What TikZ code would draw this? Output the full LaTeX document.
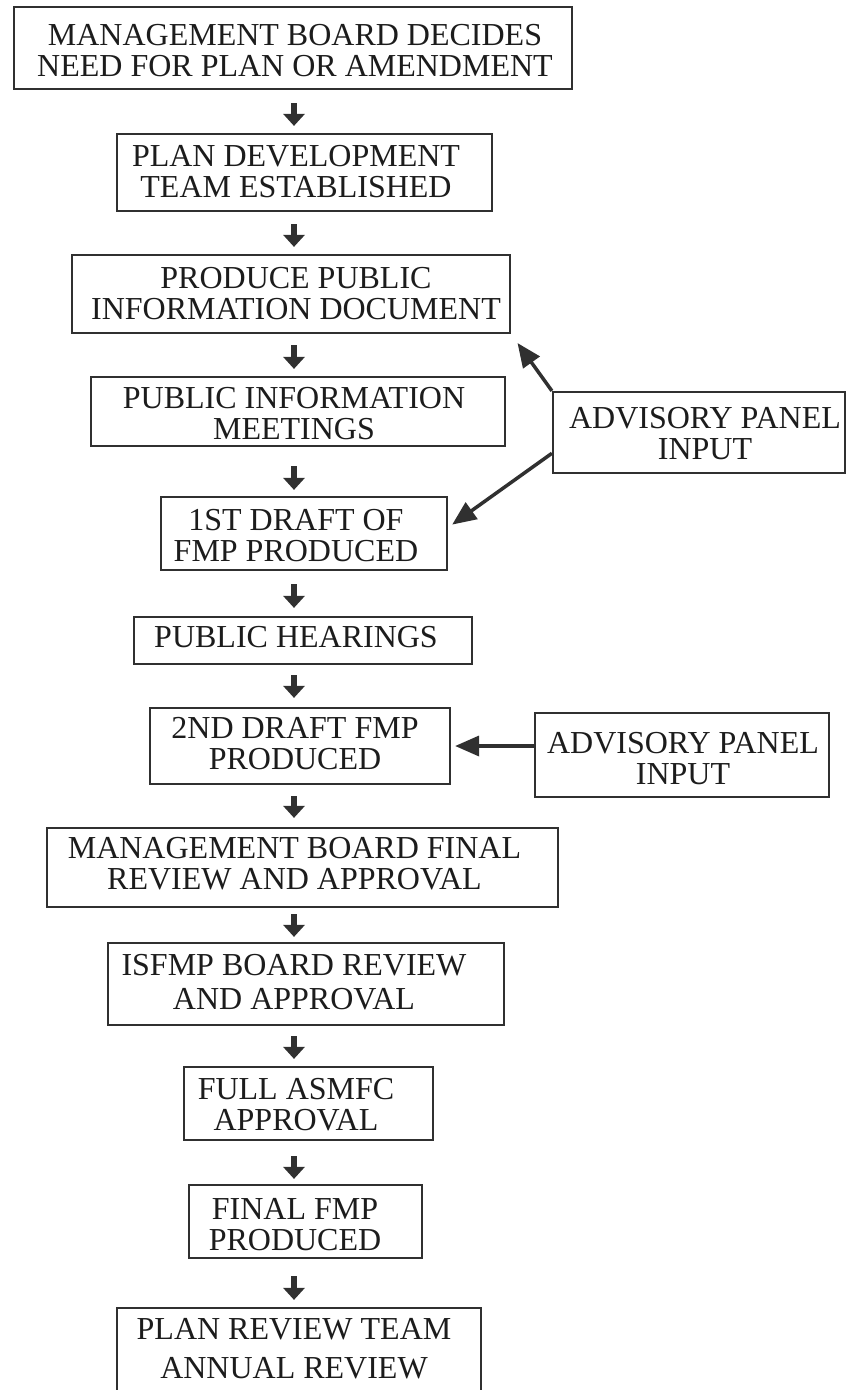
\documentclass[tikz,border=0pt]{standalone}
\usepackage{fontspec}
\setmainfont{Liberation Serif}
\usetikzlibrary{arrows.meta,calc}
\definecolor{ink}{HTML}{303030}
\definecolor{txt}{HTML}{1C1C1C}
\tikzset{
  stepbox/.style={draw=ink, line width=2.2pt, inner sep=0pt},
  steptext/.style={align=center, inner sep=0pt, text=txt,
                   font=\fontsize{32}{31}\selectfont},
  flowarrow/.style={draw=ink, line width=5.5pt,
                    -{Triangle[width=21pt,length=12pt]}},
  sidearrow/.style={draw=ink, line width=3.5pt,
                    -{Triangle[width=20pt,length=24pt]}},
}
\begin{document}
\begin{tikzpicture}[x=1pt, y=-1pt]
\useasboundingbox (0,0) rectangle (848,1390);
\clip (0,0) rectangle (848,1390);
\fill[white] (0,0) rectangle (848,1390);

% column of the main flow arrows
\coordinate (col) at (294,0);

% main sequence of steps (frames)
\node[stepbox, minimum width=558pt, minimum height=82pt] (b1)  at (293,48)     {};
\node[stepbox, minimum width=375pt, minimum height=77pt] (b2)  at (304.5,172.5) {};
\node[stepbox, minimum width=438pt, minimum height=78pt] (b3)  at (291,294)    {};
\node[stepbox, minimum width=414pt, minimum height=69pt] (b4)  at (298,411.5)  {};
\node[stepbox, minimum width=286pt, minimum height=73pt] (b5)  at (304,533.5)  {};
\node[stepbox, minimum width=338pt, minimum height=47pt] (b6)  at (303,640.5)  {};
\node[stepbox, minimum width=300pt, minimum height=76pt] (b7)  at (300,746)    {};
\node[stepbox, minimum width=511pt, minimum height=79pt] (b8)  at (302.5,867.5) {};
\node[stepbox, minimum width=396pt, minimum height=82pt] (b9)  at (306,984)    {};
\node[stepbox, minimum width=249pt, minimum height=73pt] (b10) at (308.5,1103.5) {};
\node[stepbox, minimum width=233pt, minimum height=73pt] (b11) at (305.5,1221.5) {};
\node[stepbox, minimum width=364pt, minimum height=92pt] (b12) at (299,1354)   {};

% advisory panel frames
\node[stepbox, minimum width=292pt, minimum height=81pt] (a1) at (699,432.5) {};
\node[stepbox, minimum width=294pt, minimum height=84pt] (a2) at (682,755)   {};

% step labels
\node[steptext] (t1)  at (295,51)    {MANAGEMENT BOARD DECIDES\\NEED FOR PLAN OR AMENDMENT};
\node[steptext] (t2)  at (296,171.5) {PLAN DEVELOPMENT\\TEAM ESTABLISHED};
\node[steptext] (t3)  at (296,293.5) {PRODUCE PUBLIC\\INFORMATION DOCUMENT};
\node[steptext] (t4)  at (294,413.5) {PUBLIC INFORMATION\\MEETINGS};
\node[steptext] (t5)  at (296,536)   {1ST DRAFT OF\\FMP PRODUCED};
\node[steptext] (t6)  at (296,637.5) {PUBLIC HEARINGS};
\node[steptext] (t7)  at (295,744)   {2ND DRAFT FMP\\PRODUCED};
\node[steptext] (t8)  at (294.5,864) {MANAGEMENT BOARD FINAL\\REVIEW AND APPROVAL};
\node[steptext] (t9)  at (294,982.5) {ISFMP BOARD REVIEW\\[3pt]AND APPROVAL};
\node[steptext] (t10) at (296,1104.5) {FULL ASMFC\\APPROVAL};
\node[steptext] (t11) at (295,1225)  {FINAL FMP\\PRODUCED};
\node[steptext] (t12) at (294,1349)  {PLAN REVIEW TEAM\\[8pt]ANNUAL REVIEW};
\node[steptext] (ta1) at (705,434)   {ADVISORY PANEL\\INPUT};
\node[steptext] (ta2) at (683,758.5) {ADVISORY PANEL\\INPUT};

% downward flow between consecutive steps
\draw[flowarrow, shorten <=13pt, shorten >=7pt] (b1.south -| col)  -- (b2.north -| col);
\draw[flowarrow, shorten <=12pt, shorten >=7pt] (b2.south -| col)  -- (b3.north -| col);
\draw[flowarrow, shorten <=11pt, shorten >=7pt] (b3.south -| col)  -- (b4.north -| col);
\draw[flowarrow, shorten <=19pt, shorten >=6pt] (b4.south -| col)  -- (b5.north -| col);
\draw[flowarrow, shorten <=13pt, shorten >=8pt] (b5.south -| col)  -- (b6.north -| col);
\draw[flowarrow, shorten <=10pt, shorten >=9pt] (b6.south -| col)  -- (b7.north -| col);
\draw[flowarrow, shorten <=11pt, shorten >=9pt] (b7.south -| col)  -- (b8.north -| col);
\draw[flowarrow, shorten <=6pt,  shorten >=5pt] (b8.south -| col)  -- (b9.north -| col);
\draw[flowarrow, shorten <=10pt, shorten >=7pt] (b9.south -| col)  -- (b10.north -| col);
\draw[flowarrow, shorten <=15pt, shorten >=5pt] (b10.south -| col) -- (b11.north -| col);
\draw[flowarrow, shorten <=17pt, shorten >=7pt] (b11.south -| col) -- (b12.north -| col);

% advisory panel input
\draw[sidearrow, shorten >=11pt] (a1.north west) -- (b3.south east);
\draw[sidearrow, shorten >=5pt]
  ($(a1.north west)!0.75!(a1.south west)$) -- ([yshift=6pt]b5.east);
\draw[sidearrow, shorten >=4pt] (a2.west |- b7.east) -- (b7.east);
\end{tikzpicture}
\end{document}
